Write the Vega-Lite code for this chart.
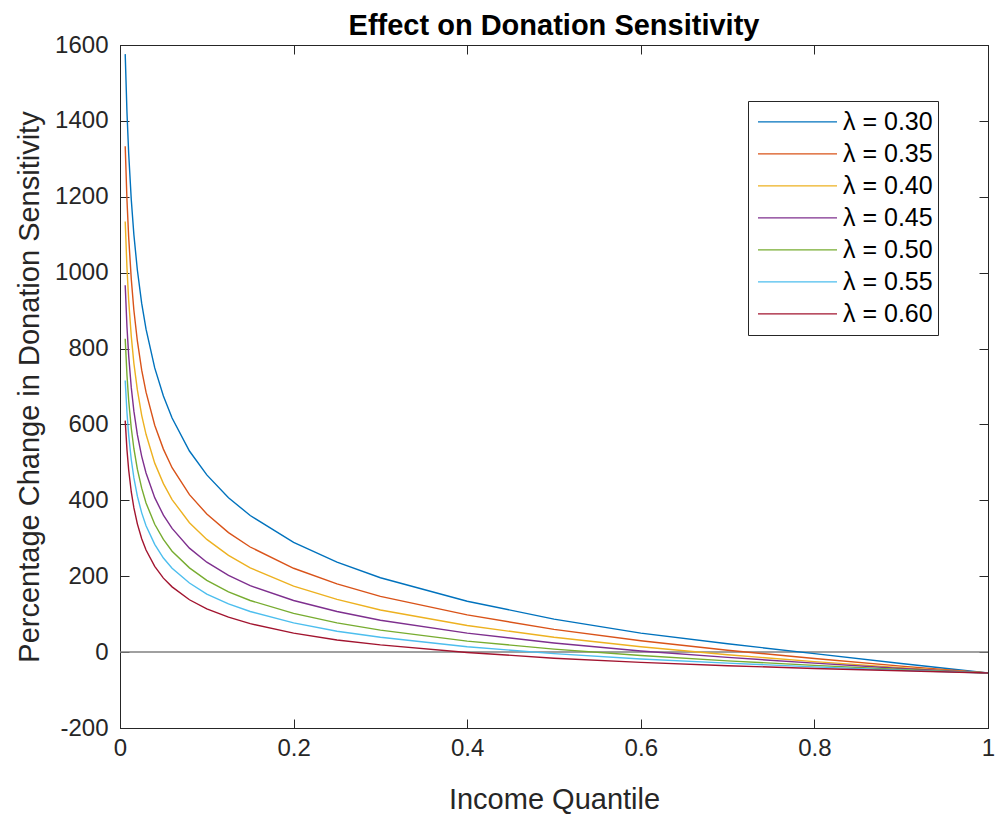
{
  "$schema": "https://vega.github.io/schema/vega-lite/v6.json",
  "width": 868,
  "height": 683,
  "autosize": {"type": "none"},
  "padding": {"left": 120, "top": 45, "right": 9, "bottom": 90},
  "background": "white",
  "config": {
    "font": "Liberation Sans",
    "view": {"stroke": "#262626", "strokeWidth": 1},
    "axis": {
      "grid": false,
      "domainColor": "#262626",
      "tickColor": "#262626",
      "labelColor": "#262626",
      "titleColor": "#262626",
      "labelFont": "Liberation Sans",
      "titleFont": "Liberation Sans",
      "labelFontSize": 24,
      "titleFontSize": 29,
      "titleFontWeight": "normal",
      "tickSize": -9,
      "tickWidth": 1,
      "labelFlush": false
    }
  },
  "title": {
    "text": "Effect on Donation Sensitivity",
    "font": "Liberation Sans",
    "fontSize": 29,
    "fontWeight": "bold",
    "color": "#000000",
    "anchor": "middle",
    "offset": -8
  },
  "layer": [
    {
      "data": {"values": [{"level": 0}]},
      "mark": {"type": "rule", "color": "#808080", "strokeWidth": 1.5},
      "encoding": {
        "y": {"field": "level", "type": "quantitative", "scale": {"domain": [-200, 1600], "nice": false, "zero": false}, "axis": null}
      }
    },
    {
      "data": {"values": [
        {"q":0.006,"pct":1576,"lambda":"λ = 0.30"},{"q":0.008,"pct":1424,"lambda":"λ = 0.30"},{"q":0.010,"pct":1314,"lambda":"λ = 0.30"},{"q":0.013,"pct":1192,"lambda":"λ = 0.30"},{"q":0.016,"pct":1100,"lambda":"λ = 0.30"},{"q":0.020,"pct":1007,"lambda":"λ = 0.30"},{"q":0.025,"pct":919,"lambda":"λ = 0.30"},{"q":0.030,"pct":851,"lambda":"λ = 0.30"},{"q":0.040,"pct":749,"lambda":"λ = 0.30"},{"q":0.050,"pct":675,"lambda":"λ = 0.30"},{"q":0.060,"pct":617,"lambda":"λ = 0.30"},{"q":0.080,"pct":530,"lambda":"λ = 0.30"},{"q":0.100,"pct":467,"lambda":"λ = 0.30"},{"q":0.125,"pct":407,"lambda":"λ = 0.30"},{"q":0.150,"pct":360,"lambda":"λ = 0.30"},{"q":0.200,"pct":289,"lambda":"λ = 0.30"},{"q":0.250,"pct":237,"lambda":"λ = 0.30"},{"q":0.300,"pct":196,"lambda":"λ = 0.30"},{"q":0.400,"pct":134,"lambda":"λ = 0.30"},{"q":0.500,"pct":87,"lambda":"λ = 0.30"},{"q":0.600,"pct":50,"lambda":"λ = 0.30"},{"q":0.700,"pct":22,"lambda":"λ = 0.30"},{"q":0.800,"pct":-4,"lambda":"λ = 0.30"},{"q":0.900,"pct":-30,"lambda":"λ = 0.30"},{"q":1.000,"pct":-55,"lambda":"λ = 0.30"},
        {"q":0.006,"pct":1333,"lambda":"λ = 0.35"},{"q":0.008,"pct":1193,"lambda":"λ = 0.35"},{"q":0.010,"pct":1093,"lambda":"λ = 0.35"},{"q":0.013,"pct":983,"lambda":"λ = 0.35"},{"q":0.016,"pct":901,"lambda":"λ = 0.35"},{"q":0.020,"pct":820,"lambda":"λ = 0.35"},{"q":0.025,"pct":743,"lambda":"λ = 0.35"},{"q":0.030,"pct":685,"lambda":"λ = 0.35"},{"q":0.040,"pct":598,"lambda":"λ = 0.35"},{"q":0.050,"pct":535,"lambda":"λ = 0.35"},{"q":0.060,"pct":486,"lambda":"λ = 0.35"},{"q":0.080,"pct":415,"lambda":"λ = 0.35"},{"q":0.100,"pct":364,"lambda":"λ = 0.35"},{"q":0.125,"pct":315,"lambda":"λ = 0.35"},{"q":0.150,"pct":277,"lambda":"λ = 0.35"},{"q":0.200,"pct":221,"lambda":"λ = 0.35"},{"q":0.250,"pct":180,"lambda":"λ = 0.35"},{"q":0.300,"pct":147,"lambda":"λ = 0.35"},{"q":0.400,"pct":98,"lambda":"λ = 0.35"},{"q":0.500,"pct":60,"lambda":"λ = 0.35"},{"q":0.600,"pct":30,"lambda":"λ = 0.35"},{"q":0.700,"pct":5,"lambda":"λ = 0.35"},{"q":0.800,"pct":-17,"lambda":"λ = 0.35"},{"q":0.900,"pct":-37,"lambda":"λ = 0.35"},{"q":1.000,"pct":-55,"lambda":"λ = 0.35"},
        {"q":0.006,"pct":1135,"lambda":"λ = 0.40"},{"q":0.008,"pct":1014,"lambda":"λ = 0.40"},{"q":0.010,"pct":927,"lambda":"λ = 0.40"},{"q":0.013,"pct":832,"lambda":"λ = 0.40"},{"q":0.016,"pct":761,"lambda":"λ = 0.40"},{"q":0.020,"pct":691,"lambda":"λ = 0.40"},{"q":0.025,"pct":624,"lambda":"λ = 0.40"},{"q":0.030,"pct":574,"lambda":"λ = 0.40"},{"q":0.040,"pct":498,"lambda":"λ = 0.40"},{"q":0.050,"pct":444,"lambda":"λ = 0.40"},{"q":0.060,"pct":402,"lambda":"λ = 0.40"},{"q":0.080,"pct":341,"lambda":"λ = 0.40"},{"q":0.100,"pct":297,"lambda":"λ = 0.40"},{"q":0.125,"pct":255,"lambda":"λ = 0.40"},{"q":0.150,"pct":222,"lambda":"λ = 0.40"},{"q":0.200,"pct":174,"lambda":"λ = 0.40"},{"q":0.250,"pct":139,"lambda":"λ = 0.40"},{"q":0.300,"pct":111,"lambda":"λ = 0.40"},{"q":0.400,"pct":70,"lambda":"λ = 0.40"},{"q":0.500,"pct":39,"lambda":"λ = 0.40"},{"q":0.600,"pct":14,"lambda":"λ = 0.40"},{"q":0.700,"pct":-7,"lambda":"λ = 0.40"},{"q":0.800,"pct":-25,"lambda":"λ = 0.40"},{"q":0.900,"pct":-41,"lambda":"λ = 0.40"},{"q":1.000,"pct":-55,"lambda":"λ = 0.40"},
        {"q":0.006,"pct":967,"lambda":"λ = 0.45"},{"q":0.008,"pct":858,"lambda":"λ = 0.45"},{"q":0.010,"pct":781,"lambda":"λ = 0.45"},{"q":0.013,"pct":697,"lambda":"λ = 0.45"},{"q":0.016,"pct":635,"lambda":"λ = 0.45"},{"q":0.020,"pct":573,"lambda":"λ = 0.45"},{"q":0.025,"pct":516,"lambda":"λ = 0.45"},{"q":0.030,"pct":472,"lambda":"λ = 0.45"},{"q":0.040,"pct":407,"lambda":"λ = 0.45"},{"q":0.050,"pct":361,"lambda":"λ = 0.45"},{"q":0.060,"pct":326,"lambda":"λ = 0.45"},{"q":0.080,"pct":274,"lambda":"λ = 0.45"},{"q":0.100,"pct":237,"lambda":"λ = 0.45"},{"q":0.125,"pct":202,"lambda":"λ = 0.45"},{"q":0.150,"pct":175,"lambda":"λ = 0.45"},{"q":0.200,"pct":136,"lambda":"λ = 0.45"},{"q":0.250,"pct":107,"lambda":"λ = 0.45"},{"q":0.300,"pct":84,"lambda":"λ = 0.45"},{"q":0.400,"pct":50,"lambda":"λ = 0.45"},{"q":0.500,"pct":24,"lambda":"λ = 0.45"},{"q":0.600,"pct":3,"lambda":"λ = 0.45"},{"q":0.700,"pct":-14,"lambda":"λ = 0.45"},{"q":0.800,"pct":-29,"lambda":"λ = 0.45"},{"q":0.900,"pct":-43,"lambda":"λ = 0.45"},{"q":1.000,"pct":-55,"lambda":"λ = 0.45"},
        {"q":0.006,"pct":826,"lambda":"λ = 0.50"},{"q":0.008,"pct":731,"lambda":"λ = 0.50"},{"q":0.010,"pct":663,"lambda":"λ = 0.50"},{"q":0.013,"pct":590,"lambda":"λ = 0.50"},{"q":0.016,"pct":536,"lambda":"λ = 0.50"},{"q":0.020,"pct":482,"lambda":"λ = 0.50"},{"q":0.025,"pct":432,"lambda":"λ = 0.50"},{"q":0.030,"pct":393,"lambda":"λ = 0.50"},{"q":0.040,"pct":337,"lambda":"λ = 0.50"},{"q":0.050,"pct":297,"lambda":"λ = 0.50"},{"q":0.060,"pct":266,"lambda":"λ = 0.50"},{"q":0.080,"pct":222,"lambda":"λ = 0.50"},{"q":0.100,"pct":189,"lambda":"λ = 0.50"},{"q":0.125,"pct":159,"lambda":"λ = 0.50"},{"q":0.150,"pct":136,"lambda":"λ = 0.50"},{"q":0.200,"pct":102,"lambda":"λ = 0.50"},{"q":0.250,"pct":77,"lambda":"λ = 0.50"},{"q":0.300,"pct":58,"lambda":"λ = 0.50"},{"q":0.400,"pct":29,"lambda":"λ = 0.50"},{"q":0.500,"pct":8,"lambda":"λ = 0.50"},{"q":0.600,"pct":-9,"lambda":"λ = 0.50"},{"q":0.700,"pct":-23,"lambda":"λ = 0.50"},{"q":0.800,"pct":-35,"lambda":"λ = 0.50"},{"q":0.900,"pct":-46,"lambda":"λ = 0.50"},{"q":1.000,"pct":-55,"lambda":"λ = 0.50"},
        {"q":0.006,"pct":716,"lambda":"λ = 0.55"},{"q":0.008,"pct":632,"lambda":"λ = 0.55"},{"q":0.010,"pct":572,"lambda":"λ = 0.55"},{"q":0.013,"pct":507,"lambda":"λ = 0.55"},{"q":0.016,"pct":459,"lambda":"λ = 0.55"},{"q":0.020,"pct":411,"lambda":"λ = 0.55"},{"q":0.025,"pct":367,"lambda":"λ = 0.55"},{"q":0.030,"pct":333,"lambda":"λ = 0.55"},{"q":0.040,"pct":284,"lambda":"λ = 0.55"},{"q":0.050,"pct":248,"lambda":"λ = 0.55"},{"q":0.060,"pct":221,"lambda":"λ = 0.55"},{"q":0.080,"pct":182,"lambda":"λ = 0.55"},{"q":0.100,"pct":153,"lambda":"λ = 0.55"},{"q":0.125,"pct":127,"lambda":"λ = 0.55"},{"q":0.150,"pct":107,"lambda":"λ = 0.55"},{"q":0.200,"pct":77,"lambda":"λ = 0.55"},{"q":0.250,"pct":55,"lambda":"λ = 0.55"},{"q":0.300,"pct":39,"lambda":"λ = 0.55"},{"q":0.400,"pct":14,"lambda":"λ = 0.55"},{"q":0.500,"pct":-4,"lambda":"λ = 0.55"},{"q":0.600,"pct":-18,"lambda":"λ = 0.55"},{"q":0.700,"pct":-29,"lambda":"λ = 0.55"},{"q":0.800,"pct":-39,"lambda":"λ = 0.55"},{"q":0.900,"pct":-48,"lambda":"λ = 0.55"},{"q":1.000,"pct":-55,"lambda":"λ = 0.55"},
        {"q":0.006,"pct":610,"lambda":"λ = 0.60"},{"q":0.008,"pct":534,"lambda":"λ = 0.60"},{"q":0.010,"pct":480,"lambda":"λ = 0.60"},{"q":0.013,"pct":422,"lambda":"λ = 0.60"},{"q":0.016,"pct":380,"lambda":"λ = 0.60"},{"q":0.020,"pct":338,"lambda":"λ = 0.60"},{"q":0.025,"pct":299,"lambda":"λ = 0.60"},{"q":0.030,"pct":269,"lambda":"λ = 0.60"},{"q":0.040,"pct":226,"lambda":"λ = 0.60"},{"q":0.050,"pct":195,"lambda":"λ = 0.60"},{"q":0.060,"pct":172,"lambda":"λ = 0.60"},{"q":0.080,"pct":138,"lambda":"λ = 0.60"},{"q":0.100,"pct":114,"lambda":"λ = 0.60"},{"q":0.125,"pct":92,"lambda":"λ = 0.60"},{"q":0.150,"pct":75,"lambda":"λ = 0.60"},{"q":0.200,"pct":50,"lambda":"λ = 0.60"},{"q":0.250,"pct":32,"lambda":"λ = 0.60"},{"q":0.300,"pct":19,"lambda":"λ = 0.60"},{"q":0.400,"pct":-1,"lambda":"λ = 0.60"},{"q":0.500,"pct":-16,"lambda":"λ = 0.60"},{"q":0.600,"pct":-27,"lambda":"λ = 0.60"},{"q":0.700,"pct":-36,"lambda":"λ = 0.60"},{"q":0.800,"pct":-43,"lambda":"λ = 0.60"},{"q":0.900,"pct":-49,"lambda":"λ = 0.60"},{"q":1.000,"pct":-55,"lambda":"λ = 0.60"}
      ]},
      "mark": {"type": "line", "strokeWidth": 1.4},
      "encoding": {
        "x": {
          "field": "q", "type": "quantitative",
          "scale": {"domain": [0, 1], "nice": false, "zero": false},
          "axis": {"orient": "bottom", "values": [0, 0.2, 0.4, 0.6, 0.8, 1], "format": "~g", "labelPadding": 17, "title": "Income Quantile", "titlePadding": 25}
        },
        "y": {
          "field": "pct", "type": "quantitative",
          "scale": {"domain": [-200, 1600], "nice": false, "zero": false},
          "axis": {"orient": "left", "values": [-200, 0, 200, 400, 600, 800, 1000, 1200, 1400, 1600], "labelExpr": "'' + datum.value", "labelPadding": 21, "title": "Percentage Change in Donation Sensitivity", "titlePadding": 10}
        },
        "color": {
          "field": "lambda", "type": "nominal",
          "scale": {
            "domain": ["λ = 0.30", "λ = 0.35", "λ = 0.40", "λ = 0.45", "λ = 0.50", "λ = 0.55", "λ = 0.60"],
            "range": ["#0072BD", "#D95319", "#EDB120", "#7E2F8E", "#77AC30", "#4DBEEE", "#A2142F"]
          },
          "legend": {
            "title": null,
            "orient": "none",
            "legendX": 628,
            "legendY": 56,
            "symbolType": "stroke",
            "symbolSize": 6241,
            "symbolStrokeWidth": 1.3,
            "symbolOffset": 4,
            "clipHeight": 31.6,
            "rowPadding": 0,
            "labelFont": "Liberation Sans",
            "labelFontSize": 25,
            "labelColor": "#000000",
            "labelOffset": 5,
            "labelLimit": 300,
            "padding": 5,
            "strokeColor": "#262626",
            "fillColor": "#ffffff"
          }
        }
      }
    },
    {
      "data": {"values": [{"a": 0.5, "b": 0}]},
      "mark": {"type": "point", "opacity": 0},
      "encoding": {
        "x": {"field": "a", "type": "quantitative", "scale": {"domain": [0, 1], "nice": false, "zero": false}, "axis": {"orient": "top", "values": [0, 0.2, 0.4, 0.6, 0.8, 1], "labels": false, "title": null}},
        "y": {"field": "b", "type": "quantitative", "scale": {"domain": [-200, 1600], "nice": false, "zero": false}, "axis": {"orient": "right", "values": [-200, 0, 200, 400, 600, 800, 1000, 1200, 1400, 1600], "labels": false, "title": null}}
      }
    }
  ],
  "resolve": {"axis": {"x": "independent", "y": "independent"}}
}
